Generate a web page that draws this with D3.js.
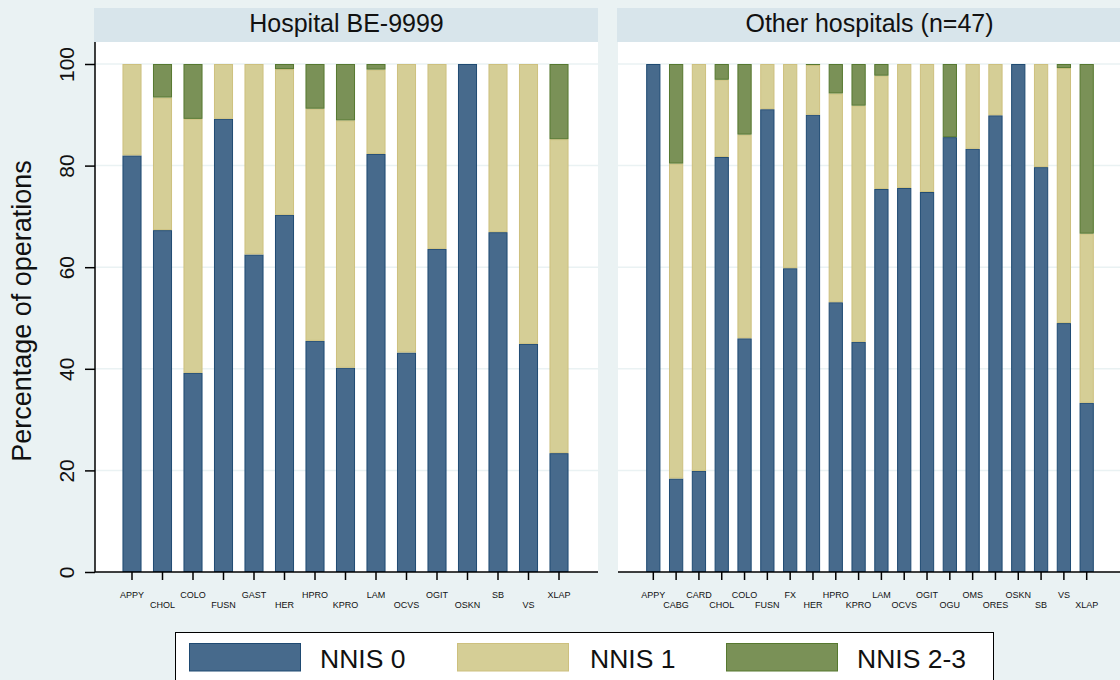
<!DOCTYPE html>
<html>
<head>
<meta charset="utf-8">
<script src="https://cdn.jsdelivr.net/npm/d3@7/dist/d3.min.js"></script>
<style>
  html, body { margin: 0; padding: 0; background: #eaf2f3; }
  svg { display: block; font-family: "Liberation Sans", Arial, sans-serif; }
</style>
</head>
<body>
<svg id="chart" width="1120" height="680"></svg>
<script>
// ---- data ----
const seriesNames = ["NNIS 0", "NNIS 1", "NNIS 2-3"];
const yTicks = [0, 20, 40, 60, 80, 100];

const panelTitles = ["Hospital BE-9999", "Other hospitals (n=47)"];

const catsHospital = ["APPY","CHOL","COLO","FUSN","GAST","HER","HPRO","KPRO","LAM","OCVS","OGIT","OSKN","SB","VS","XLAP"];
const hospNnis0  = [82.0, 67.3, 39.2, 89.2, 62.5, 70.3, 45.5, 40.2, 82.3, 43.2, 63.6, 100, 66.9, 44.9, 23.4];
const hospNnis1  = [18.0, 26.1, 50.0, 10.8, 37.5, 28.7, 45.7, 48.7, 16.6, 56.8, 36.4, 0,   33.1, 55.1, 61.8];
const hospNnis23 = [0,    6.6,  10.8, 0,    0,    1.0,  8.8,  11.1, 1.1,  0,    0,    0,   0,    0,    14.8];

const catsOther = ["APPY","CABG","CARD","CHOL","COLO","FUSN","FX","HER","HPRO","KPRO","LAM","OCVS","OGIT","OGU","OMS","ORES","OSKN","SB","VS","XLAP"];
const otherNnis0  = [100, 18.4, 19.9, 81.7, 46.0, 91.1, 59.8, 90.0, 53.1, 45.3, 75.4, 75.6, 74.8, 85.6, 83.3, 89.9, 100, 79.7, 49.0, 33.3];
const otherNnis1  = [0,   62.0, 80.1, 15.2, 40.1, 8.9,  40.2, 9.8,  41.1, 46.5, 22.3, 24.4, 25.2, 0,    16.7, 10.1, 0,   20.3, 50.2, 33.3];
const otherNnis23 = [0,   19.6, 0,    3.1,  13.9, 0,    0,    0.2,  5.8,  8.2,  2.3,  0,    0,    14.4, 0,    0,    0,   0,    0.8,  33.4];

// ---- styles ----
const fills   = ["#476a8c", "#d5ce96", "#7a9157"];
const strokes = ["#1f4a72", "#cdc07e", "#56782f"];
const bgColor = "#eaf2f3";
const stripColor = "#d8e5eb";

const svg = d3.select("#chart");
svg.append("rect").attr("width", 1120).attr("height", 680).attr("fill", bgColor);

const y = d3.scaleLinear().domain([0, 100]).range([572, 64]);
const plotTop = 42, plotBottom = 572;

const panels = [
  { title: panelTitles[0], cats: catsHospital, vals: [hospNnis0, hospNnis1, hospNnis23],
    x0: 95, x1: 598, bandRange: [116.75, 574.25], yAxis: true },
  { title: panelTitles[1], cats: catsOther, vals: [otherNnis0, otherNnis1, otherNnis23],
    x0: 618, x1: 1121, bandRange: [641.9, 1098.1], yAxis: false }
];

panels.forEach(p => {
  const g = svg.append("g");
  // header strip
  g.append("rect").attr("x", p.x0 - 1).attr("y", 8).attr("width", p.x1 - p.x0 + 1).attr("height", 34)
    .attr("fill", stripColor);
  g.append("text").attr("x", (p.x0 + p.x1) / 2).attr("y", 32).attr("text-anchor", "middle")
    .attr("font-size", 25).attr("fill", "#111").text(p.title);
  // plot area
  g.append("rect").attr("x", p.x0).attr("y", plotTop).attr("width", p.x1 - p.x0).attr("height", plotBottom - plotTop)
    .attr("fill", "#fff");
  // grid
  g.selectAll("line.grid").data(yTicks.filter(t => t > 0)).join("line")
    .attr("x1", p.x0).attr("x2", p.x1).attr("y1", d => y(d)).attr("y2", d => y(d))
    .attr("stroke", "#eaf2f3").attr("stroke-width", 1.5);

  const x = d3.scaleBand().domain(p.cats).range(p.bandRange).paddingInner(0.375).paddingOuter(0.1875);

  const rows = p.cats.map((c, i) => ({ cat: c, v0: p.vals[0][i], v1: p.vals[1][i], v2: p.vals[2][i] }));
  const stack = d3.stack().keys(["v0", "v1", "v2"])(rows);

  stack.forEach((layer, k) => {
    g.append("g").selectAll("rect").data(layer.filter(d => d[1] - d[0] > 0)).join("rect")
      .attr("x", d => x(d.data.cat) + 0.5)
      .attr("width", x.bandwidth() - 1)
      .attr("y", d => y(d[1]) + 0.5)
      .attr("height", d => Math.max(0, y(d[0]) - y(d[1]) - 1))
      .attr("fill", fills[k]).attr("stroke", strokes[k]).attr("stroke-width", 1);
  });

  // x axis
  const xAxis = d3.axisBottom(x).tickSize(8).tickSizeOuter(0).tickPadding(3);
  const xa = g.append("g").attr("transform", `translate(0,${plotBottom})`).call(xAxis);
  xa.select(".domain").remove();
  xa.selectAll(".tick line").attr("stroke", "#000").attr("stroke-width", 1.5);
  xa.selectAll(".tick text").attr("font-size", 9).attr("fill", "#111")
    .attr("font-family", "Liberation Sans, Arial, sans-serif")
    .attr("dy", null)
    .attr("y", (d, i) => i % 2 === 0 ? 26 : 35.5);
  g.append("line").attr("x1", p.x0).attr("x2", p.x1).attr("y1", plotBottom).attr("y2", plotBottom)
    .attr("stroke", "#000").attr("stroke-width", 1.5);

  if (p.yAxis) {
    const yAxis = d3.axisLeft(y).tickValues(yTicks).tickSize(10).tickSizeOuter(0);
    const ya = g.append("g").attr("transform", `translate(${p.x0},0)`).call(yAxis);
    ya.select(".domain").remove();
    ya.selectAll(".tick line").attr("stroke", "#000").attr("stroke-width", 1.5);
    ya.selectAll(".tick text")
      .attr("font-size", 21).attr("fill", "#111")
      .attr("font-family", "Liberation Sans, Arial, sans-serif")
      .attr("x", null).attr("dy", null)
      .attr("text-anchor", "middle")
      .attr("transform", "translate(-21,0) rotate(-90)");
    g.append("line").attr("x1", p.x0).attr("x2", p.x0).attr("y1", plotTop).attr("y2", plotBottom)
      .attr("stroke", "#000").attr("stroke-width", 1.5);
  }
});

// y-axis title
svg.append("text").attr("transform", "translate(31,311) rotate(-90)")
  .attr("text-anchor", "middle").attr("font-size", 27).attr("fill", "#111")
  .text("Percentage of operations");

// legend
const lg = svg.append("g");
lg.append("rect").attr("x", 175.5).attr("y", 632.5).attr("width", 818).attr("height", 60)
  .attr("fill", "#fff").attr("stroke", "#000").attr("stroke-width", 1);
const swatchX = [189.5, 457.5, 726.5];
const textX = [320, 590, 857];
seriesNames.forEach((n, k) => {
  lg.append("rect").attr("x", swatchX[k]).attr("y", 643.5).attr("width", 111).attr("height", 27.5)
    .attr("fill", fills[k]).attr("stroke", strokes[k]).attr("stroke-width", 1);
  lg.append("text").attr("x", textX[k]).attr("y", 668).attr("font-size", 26.5).attr("fill", "#111").text(n);
});
</script>
</body>
</html>
